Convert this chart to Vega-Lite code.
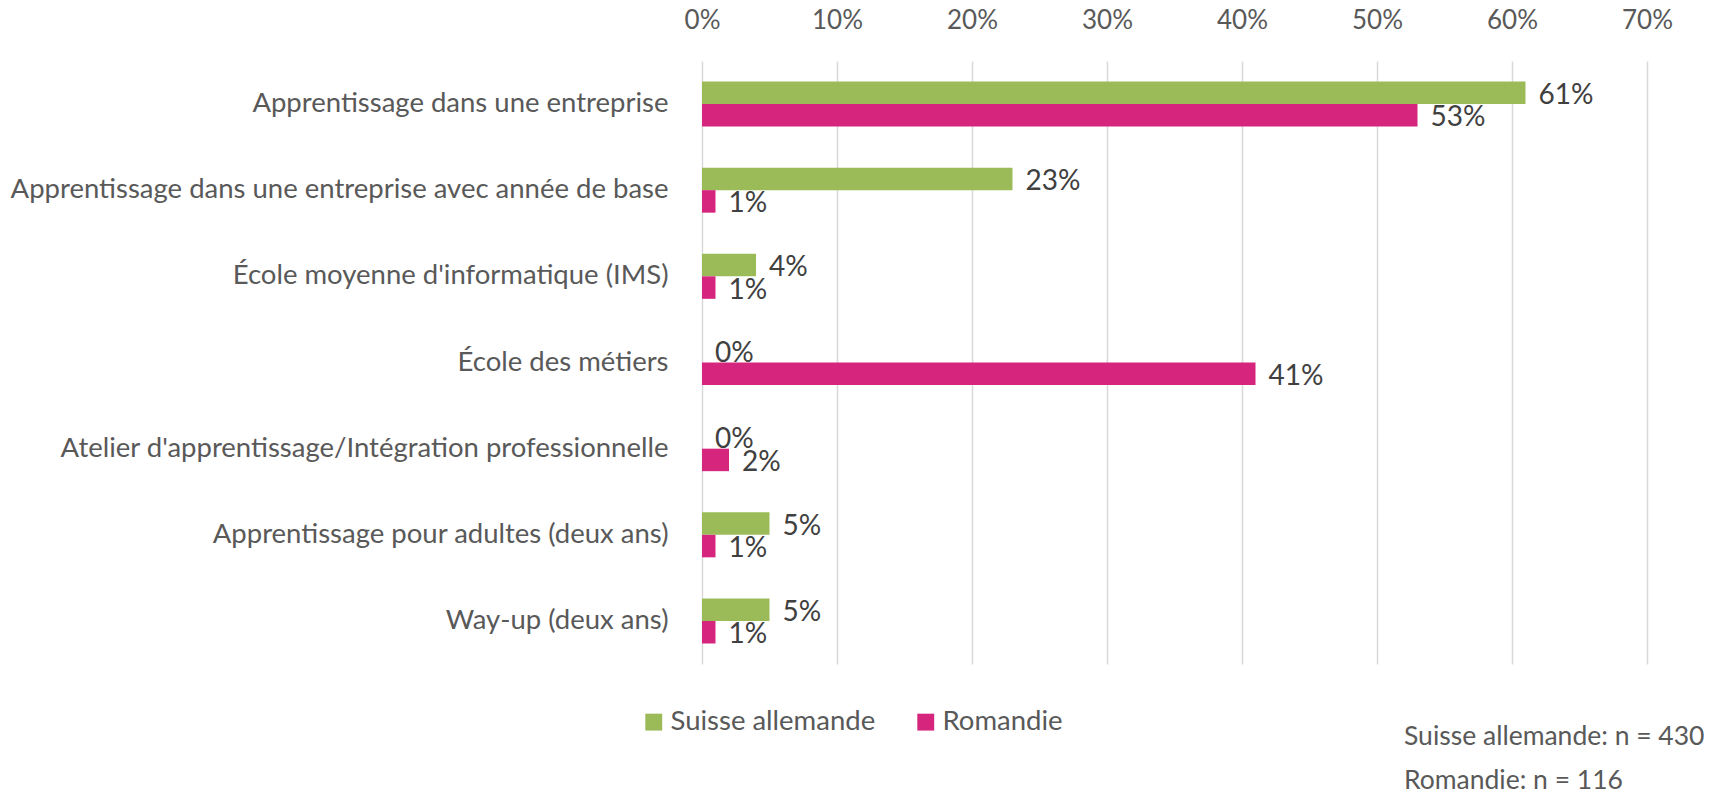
{
  "$schema": "https://vega.github.io/schema/vega-lite/v6.json",
  "autosize": "none",
  "width": 945,
  "height": 603,
  "padding": {"left": 702, "top": 61, "right": 78, "bottom": 130},
  "background": "white",
  "config": {
    "font": "Lato",
    "view": {"stroke": null}
  },
  "title": {
    "text": ["Suisse allemande: n = 430", "Romandie: n = 116"],
    "orient": "bottom",
    "anchor": "end",
    "frame": "group",
    "align": "left",
    "dx": -243,
    "offset": -12,
    "lineHeight": 44,
    "font": "Lato",
    "fontSize": 26.5,
    "fontWeight": "normal",
    "color": "#595959"
  },
  "data": {
    "values": [
      {"cat": "Apprentissage dans une entreprise", "region": "Suisse allemande", "v": 0.61},
      {"cat": "Apprentissage dans une entreprise", "region": "Romandie", "v": 0.53},
      {"cat": "Apprentissage dans une entreprise avec année de base", "region": "Suisse allemande", "v": 0.23},
      {"cat": "Apprentissage dans une entreprise avec année de base", "region": "Romandie", "v": 0.01},
      {"cat": "École moyenne d'informatique (IMS)", "region": "Suisse allemande", "v": 0.04},
      {"cat": "École moyenne d'informatique (IMS)", "region": "Romandie", "v": 0.01},
      {"cat": "École des métiers", "region": "Suisse allemande", "v": 0.0},
      {"cat": "École des métiers", "region": "Romandie", "v": 0.41},
      {"cat": "Atelier d'apprentissage/Intégration professionnelle", "region": "Suisse allemande", "v": 0.0},
      {"cat": "Atelier d'apprentissage/Intégration professionnelle", "region": "Romandie", "v": 0.02},
      {"cat": "Apprentissage pour adultes (deux ans)", "region": "Suisse allemande", "v": 0.05},
      {"cat": "Apprentissage pour adultes (deux ans)", "region": "Romandie", "v": 0.01},
      {"cat": "Way-up (deux ans)", "region": "Suisse allemande", "v": 0.05},
      {"cat": "Way-up (deux ans)", "region": "Romandie", "v": 0.01}
    ]
  },
  "encoding": {
    "y": {
      "field": "cat",
      "type": "nominal",
      "sort": null,
      "title": null,
      "scale": {"paddingInner": 0.478, "paddingOuter": 0.238},
      "axis": {
        "domain": false,
        "ticks": false,
        "labelFontSize": 27.5,
        "labelColor": "#595959",
        "labelPadding": 34,
        "labelLimit": 800
      }
    },
    "yOffset": {
      "field": "region",
      "type": "nominal",
      "sort": ["Suisse allemande", "Romandie"]
    },
    "x": {
      "field": "v",
      "type": "quantitative",
      "title": null,
      "scale": {"domain": [0, 0.7], "nice": false},
      "axis": {
        "orient": "top",
        "format": ".0%",
        "values": [0, 0.1, 0.2, 0.3, 0.4, 0.5, 0.6, 0.7],
        "domain": false,
        "ticks": false,
        "grid": true,
        "gridColor": "#D9D9D9",
        "gridWidth": 1.5,
        "labelFlush": false,
        "labelFontSize": 26,
        "labelColor": "#595959",
        "labelPadding": 28
      }
    }
  },
  "layer": [
    {
      "mark": {"type": "bar"},
      "encoding": {
        "color": {
          "field": "region",
          "type": "nominal",
          "sort": ["Suisse allemande", "Romandie"],
          "scale": {"domain": ["Suisse allemande", "Romandie"], "range": ["#9BBB59", "#D6257D"]},
          "legend": {
            "title": null,
            "orient": "none",
            "direction": "horizontal",
            "legendX": -62,
            "legendY": 647,
            "symbolType": "square",
            "symbolSize": 285,
            "symbolStrokeWidth": 0,
            "symbolOpacity": 1,
            "labelFontSize": 27.5,
            "labelColor": "#595959",
            "labelOffset": 3,
            "labelLimit": 500,
            "columnPadding": 36
          }
        }
      }
    },
    {
      "mark": {"type": "text", "align": "left", "baseline": "middle", "dx": 13, "dy": 3, "fontSize": 28, "color": "#404040"},
      "encoding": {
        "text": {"field": "v", "type": "quantitative", "format": ".0%"}
      }
    }
  ]
}
